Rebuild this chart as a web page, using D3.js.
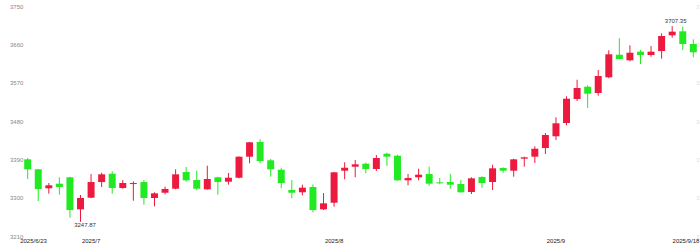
<!DOCTYPE html>
<html>
<head>
<meta charset="utf-8">
<script src="https://cdn.jsdelivr.net/npm/d3@7"></script>
<style>
  body { margin: 0; background: #fff; }
  svg { display: block; font-family: "Liberation Sans", Arial, sans-serif; }
</style>
</head>
<body>
<div id="chart-area"></div>
<script>
// trading days 2025/6/23 - 2025/9/18
var dates = [
    "2025/6/23","2025/6/24","2025/6/25","2025/6/26","2025/6/27","2025/6/30",
    "2025/7/1","2025/7/2","2025/7/3","2025/7/4","2025/7/7","2025/7/8","2025/7/9","2025/7/10","2025/7/11",
    "2025/7/14","2025/7/15","2025/7/16","2025/7/17","2025/7/18","2025/7/21","2025/7/22","2025/7/23",
    "2025/7/24","2025/7/25","2025/7/28","2025/7/29","2025/7/30","2025/7/31",
    "2025/8/1","2025/8/4","2025/8/5","2025/8/6","2025/8/7","2025/8/8","2025/8/11","2025/8/12","2025/8/13",
    "2025/8/14","2025/8/15","2025/8/18","2025/8/19","2025/8/20","2025/8/21","2025/8/22","2025/8/25",
    "2025/8/26","2025/8/27","2025/8/28","2025/8/29",
    "2025/9/1","2025/9/2","2025/9/3","2025/9/4","2025/9/5","2025/9/8","2025/9/9","2025/9/10",
    "2025/9/11","2025/9/12","2025/9/15","2025/9/16","2025/9/17","2025/9/18"
];

var open = [
    3394.7,3371.3,3326.7,3337.5,3352.5,3277.3,
    3304.6,3341.4,3360.9,3327.4,3338.0,3341.4,3303.9,3316.3,3325.7,
    3364.9,3346.1,3324.3,3352.5,3342.2,3351.5,3400.9,3435.4,
    3392.4,3370.3,3322.7,3317.3,3329.7,3277.3,
    3292.8,3368.0,3377.4,3384.4,3372.0,3407.9,3403.2,3345.4,3352.5,
    3360.2,3340.7,3341.4,3336.8,3318.0,3353.2,3341.4,3374.3,
    3368.0,3396.2,3400.9,3421.3,
    3448.8,3480.0,3536.3,3565.2,3550.4,3587.3,3640.3,3627.2,
    3647.4,3639.6,3649.0,3685.9,3695.3,3665.5
];
var close = [
    3371.3,3325.0,3333.7,3329.7,3275.7,3303.9,
    3341.4,3359.5,3327.4,3339.1,3339.0,3303.9,3314.9,3325.0,3359.5,
    3345.4,3325.7,3348.5,3341.4,3351.5,3400.9,3434.7,3390.8,
    3371.3,3339.1,3316.3,3328.1,3275.7,3291.4,
    3364.2,3375.0,3383.0,3372.0,3397.8,3400.9,3345.4,3350.8,3358.6,
    3337.5,3338.4,3335.1,3317.3,3350.1,3339.1,3373.6,3368.0,
    3394.7,3399.4,3419.6,3451.8,
    3479.3,3537.0,3562.2,3548.8,3590.3,3641.3,3630.3,3645.0,
    3639.6,3647.4,3684.3,3694.4,3665.5,3646.0
];
var high = [
    3397.8,3372.0,3339.1,3352.5,3353.5,3310.9,
    3360.2,3363.3,3366.6,3346.1,3343.1,3346.1,3317.3,3330.4,3371.3,
    3376.7,3368.0,3379.7,3353.9,3362.6,3401.5,3435.5,3441.7,
    3395.5,3375.0,3346.1,3335.1,3336.0,3315.6,
    3365.0,3387.7,3393.1,3386.8,3404.8,3410.2,3405.6,3360.2,3372.7,
    3377.4,3350.8,3360.9,3346.1,3352.5,3354.8,3382.1,3376.0,
    3396.2,3400.9,3425.3,3456.5,
    3493.4,3542.7,3581.6,3568.5,3604.4,3650.7,3678.9,3662.4,
    3651.4,3660.8,3690.6,3707.35,3706.0,3676.5
];
var low = [
    3348.5,3296.8,3314.0,3311.6,3257.6,3247.87,
    3303.5,3329.7,3314.0,3325.7,3297.5,3288.1,3284.4,3312.6,3324.3,
    3342.2,3322.7,3323.5,3311.6,3335.1,3350.1,3385.4,3385.4,
    3353.9,3326.7,3303.2,3310.2,3270.3,3275.7,
    3283.5,3347.8,3352.5,3361.9,3367.3,3379.7,3344.5,3333.7,3345.4,
    3332.8,3336.0,3325.7,3316.5,3313.3,3328.1,3322.7,3363.3,
    3353.9,3377.4,3386.1,3407.2,
    3440.1,3474.6,3531.6,3515.2,3544.1,3584.9,3629.5,3624.9,
    3618.5,3635.7,3631.0,3680.3,3651.4,3634.2
];

var yTicks = [3210, 3300, 3390, 3480, 3570, 3660, 3750];
var xTickDates = ["2025/6/23", "2025/7/1", "2025/8/1", "2025/9/1", "2025/9/18"];
var xTickLabels = ["2025/6/23", "2025/7", "2025/8", "2025/9", "2025/9/18"];

var upColor = "#ec1a3e",
    downColor = "#22ea22";

var width = 700, height = 244;

var data = dates.map(function(d, i) {
    return {date: d, open: open[i], close: close[i], high: high[i], low: low[i]};
});

var svg = d3.select("#chart-area").append("svg")
    .attr("width", width)
    .attr("height", height);

// scales
var x = d3.scaleBand()
    .domain(dates)
    .range([22.4, 698.6])
    .padding(0);
var step = x.step();
var cx = function(d) { return x(d) + step / 2; };
var bodyW = step * 0.66;

var y = d3.scaleLinear()
    .domain([3210, 3750])
    .range([238, 8]);

// y labels, left
svg.append("g")
    .selectAll("text")
    .data(yTicks)
    .enter().append("text")
    .attr("x", 10)
    .attr("y", function(d) { return y(d) + 0.5; })
    .attr("font-size", 6)
    .attr("fill", "#888")
    .text(function(d) { return d; });

// faint labels cut off at the right edge
svg.append("g")
    .selectAll("text")
    .data(yTicks)
    .enter().append("text")
    .attr("x", 696)
    .attr("y", function(d) { return y(d) + 0.5; })
    .attr("font-size", 6)
    .attr("fill", "#e2e2e2")
    .text(function(d) { return d; });

// candles
var candle = svg.append("g")
    .selectAll("g")
    .data(data)
    .enter().append("g");

candle.append("line")
    .attr("x1", function(d) { return cx(d.date); })
    .attr("x2", function(d) { return cx(d.date); })
    .attr("y1", function(d) { return y(d.high); })
    .attr("y2", function(d) { return y(d.low); })
    .attr("stroke", function(d) { return d.close >= d.open ? upColor : downColor; })
    .attr("stroke-width", 1);

candle.append("rect")
    .attr("x", function(d) { return cx(d.date) - bodyW / 2; })
    .attr("y", function(d) { return y(Math.max(d.open, d.close)); })
    .attr("width", bodyW)
    .attr("height", function(d) { return Math.max(1, Math.abs(y(d.open) - y(d.close))); })
    .attr("fill", function(d) { return d.close >= d.open ? upColor : downColor; });

// min / max markers
var minD = data[d3.minIndex(data, function(d) { return d.low; })];
var maxD = data[d3.maxIndex(data, function(d) { return d.high; })];

svg.append("text")
    .attr("x", cx(minD.date) + 4.5)
    .attr("y", y(minD.low) + 5.5)
    .attr("text-anchor", "middle")
    .attr("font-size", 6)
    .attr("fill", "#333")
    .text(minD.low.toFixed(2));

svg.append("text")
    .attr("x", cx(maxD.date) + 3.5)
    .attr("y", y(maxD.high) - 3)
    .attr("text-anchor", "middle")
    .attr("font-size", 6)
    .attr("fill", "#333")
    .text(maxD.high.toFixed(2));

// x labels
var last = xTickDates.length - 1;
svg.append("g")
    .selectAll("text")
    .data(xTickDates)
    .enter().append("text")
    .attr("x", function(d, i) {
        if (i === 0) return cx(d) - 7.5;
        if (i === last) return cx(d) + 6;
        return cx(d);
    })
    .attr("y", 242.5)
    .attr("text-anchor", function(d, i) { return i === 0 ? "start" : (i === last ? "end" : "middle"); })
    .attr("font-size", 6)
    .attr("fill", "#222")
    .text(function(d, i) { return xTickLabels[i]; });
</script>
</body>
</html>
